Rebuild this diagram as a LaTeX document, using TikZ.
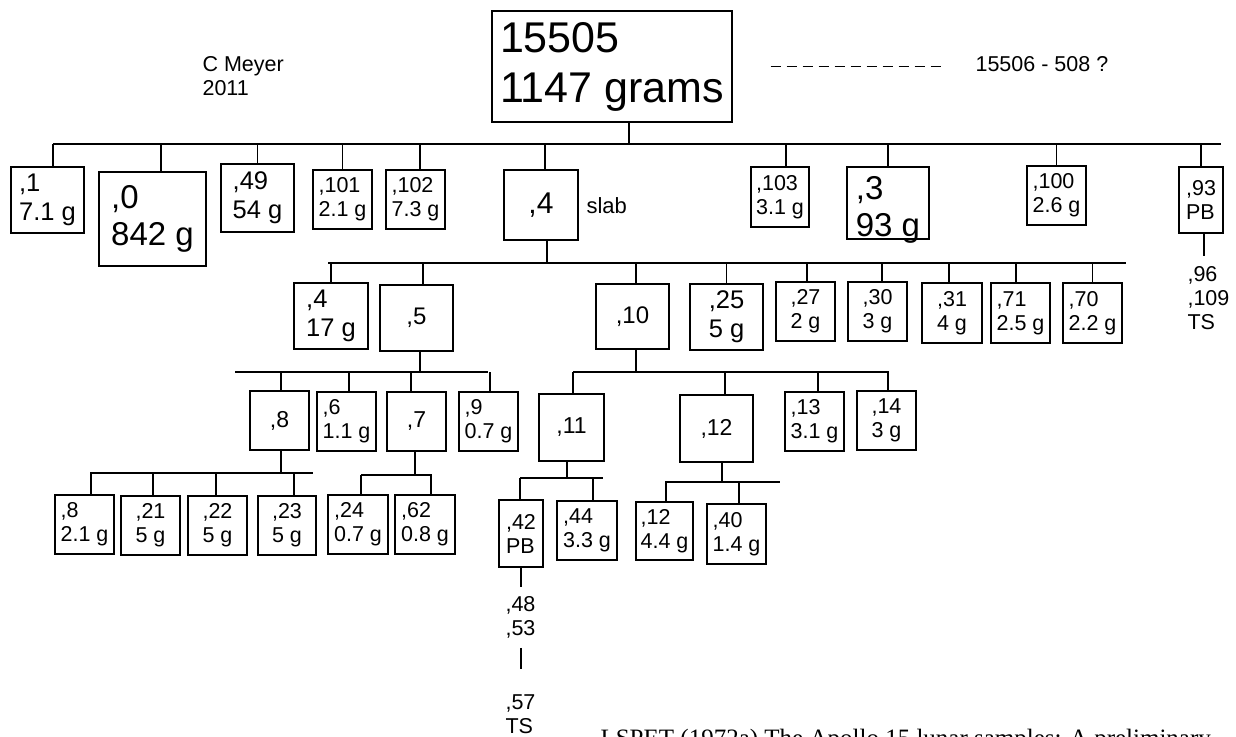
\documentclass[tikz,border=0pt]{standalone}
\usepackage{fontspec}
\setmainfont{Liberation Sans}
\newfontfamily\reffont{Liberation Serif}

\begin{document}
\begin{tikzpicture}[x=1pt, y=-1pt, line width=1.1pt,
  box/.style 2 args={draw, inner sep=0pt, align=left, minimum width=#1pt, minimum height=#2pt},
  hugetxt/.style={font=\fontsize{43}{50}\selectfont},
  bigtxt/.style={font=\fontsize{33}{37}\selectfont},
  slabtxt/.style={font=\fontsize{30}{34}\selectfont},
  midtxt/.style={font=\fontsize{25.5}{29}\selectfont},
  medtxt/.style={font=\fontsize{24}{28}\selectfont},
  lvltxt/.style={font=\fontsize{23}{26}\selectfont},
  smalltxt/.style={font=\fontsize{21.5}{24}\selectfont},
  sbox/.style={box={59}{59}, smalltxt},
  freetxt/.style={anchor=north west, inner sep=0pt, align=left, smalltxt},
  dashline/.style={dash pattern=on 10pt off 6pt}
]
\clip (0,0) rectangle (1236,736);

\node[box={240}{111}, hugetxt] (root) at (612,66.5) {15505\\1147 grams};
\node[freetxt] (author) at (202,56) {C Meyer\\2011};
\node[freetxt] (others) at (975,56) {15506 - 508 ?};
\draw[dashline] ([xshift=38pt]root.east) -- ([xshift=-30pt]others.west |- root.east);

\node[box={73}{66}, midtxt] (n1) at (47.5,200) {,1\\7.1 g};
\node[box={107}{94}, bigtxt] (n0) at (152.5,219) {,0\\842 g};
\node[box={73}{68}, midtxt] (n49) at (257.5,198) {,49\\54 g};
\node[sbox] (n101) at (342.5,199.5) {,101\\2.1 g};
\node[sbox] (n102) at (415.5,199.5) {,102\\7.3 g};
\node[box={74}{70}, slabtxt] (n4) at (541,205) {,4};
\node[anchor=base west, inner sep=0pt, font=\fontsize{22}{26}\selectfont] (slab) at (586,213) {slab};
\node[box={58}{60}, smalltxt] (n103) at (780,197) {,103\\3.1 g};
\node[box={82}{72}, bigtxt] (n3) at (888,203) {\raisebox{-13.4pt}[0pt][0pt]{\begin{tabular}{@{}l@{}},3\\93 g\end{tabular}}};
\node[sbox] (n100) at (1056.5,195.5) {,100\\2.6 g};
\node[box={44}{66}, smalltxt] (n93) at (1201,200) {,93\\PB};
\node[freetxt] (n96) at (1187,266) {,96\\,109\\TS};

\coordinate (bus1w) at (53,144);
\coordinate (bus1e) at (1221,144);
\draw (bus1w) -- (bus1e);
\draw ([xshift=17pt]root.south) -- ([xshift=17pt]root.south |- bus1w);
\draw ([xshift=5.5pt]n1.north) -- ([xshift=5.5pt]n1.north |- bus1w);
\draw ([xshift=8.5pt]n0.north) -- ([xshift=8.5pt]n0.north |- bus1w);
\draw (n49.north) -- (n49.north |- bus1w);
\draw (n101.north) -- (n101.north |- bus1w);
\draw ([xshift=4.5pt]n102.north) -- ([xshift=4.5pt]n102.north |- bus1w);
\draw ([xshift=4pt]n4.north) -- ([xshift=4pt]n4.north |- bus1w);
\draw ([xshift=6pt]n103.north) -- ([xshift=6pt]n103.north |- bus1w);
\draw (n3.north) -- (n3.north |- bus1w);
\draw (n100.north) -- (n100.north |- bus1w);
\draw (n93.north) -- (n93.north |- bus1w);
\draw[shorten >=10pt] ([xshift=3pt]n93.south) -- ([xshift=3pt]n93.south |- n96.north);

\node[box={74}{66}, midtxt] (n4s) at (331,316) {,4\\17 g};
\node[box={73}{66}, medtxt] (n5) at (416.5,318) {,5};
\node[box={73}{65}, medtxt] (n10) at (632.5,316.5) {,10};
\node[box={73}{66}, midtxt] (n25) at (726.5,317) {,25\\5 g};
\node[sbox] (n27) at (805.5,311.5) {,27\\2 g};
\node[sbox] (n30) at (877.5,311.5) {,30\\3 g};
\node[box={60}{60}, smalltxt] (n31) at (952,313) {,31\\4 g};
\node[box={59}{60}, smalltxt] (n71) at (1020.5,313) {,71\\2.5 g};
\node[box={59}{60}, smalltxt] (n70) at (1092.5,313) {,70\\2.2 g};

\coordinate (bus2w) at (328,263);
\coordinate (bus2e) at (1126,263);
\draw (bus2w) -- (bus2e);
\draw ([xshift=6pt]n4.south) -- ([xshift=6pt]n4.south |- bus2w);
\draw (n4s.north) -- (n4s.north |- bus2w);
\draw ([xshift=6.5pt]n5.north) -- ([xshift=6.5pt]n5.north |- bus2w);
\draw ([xshift=3.5pt]n10.north) -- ([xshift=3.5pt]n10.north |- bus2w);
\draw (n25.north) -- (n25.north |- bus2w);
\draw ([xshift=1.5pt]n27.north) -- ([xshift=1.5pt]n27.north |- bus2w);
\draw ([xshift=4.5pt]n30.north) -- ([xshift=4.5pt]n30.north |- bus2w);
\draw ([xshift=-3pt]n31.north) -- ([xshift=-3pt]n31.north |- bus2w);
\draw ([xshift=-4.5pt]n71.north) -- ([xshift=-4.5pt]n71.north |- bus2w);
\draw (n70.north) -- (n70.north |- bus2w);

\node[sbox, lvltxt] (n8) at (279.5,420.5) {,8};
\node[sbox] (n6) at (346.5,421.5) {,6\\1.1 g};
\node[sbox, lvltxt] (n7) at (416.5,421.5) {,7};
\node[sbox] (n9) at (488.5,421.5) {,9\\0.7 g};

\coordinate (bus3w) at (235,372);
\coordinate (bus3e) at (488,372);
\draw (bus3w) -- (bus3e);
\draw ([xshift=3.5pt]n5.south) -- ([xshift=3.5pt]n5.south |- bus3w);
\draw ([xshift=1.5pt]n8.north) -- ([xshift=1.5pt]n8.north |- bus3w);
\draw ([xshift=2.5pt]n6.north) -- ([xshift=2.5pt]n6.north |- bus3w);
\draw ([xshift=-5.5pt]n7.north) -- ([xshift=-5.5pt]n7.north |- bus3w);
\draw ([xshift=1.5pt]n9.north) -- ([xshift=1.5pt]n9.north |- bus3w);

\node[box={65}{67}, lvltxt] (n11) at (571.5,427.5) {,11};
\node[box={73}{67}, lvltxt] (n12) at (716.5,428.5) {,12};
\node[sbox] (n13) at (814.5,421.5) {,13\\3.1 g};
\node[sbox] (n14) at (886.5,420.5) {,14\\3 g};

\coordinate (bus4w) at (573,372);
\coordinate (bus4e) at (889,372);
\draw (bus4w) -- (bus4e);
\draw ([xshift=3.5pt]n10.south) -- ([xshift=3.5pt]n10.south |- bus4w);
\draw ([xshift=1.5pt]n11.north) -- ([xshift=1.5pt]n11.north |- bus4w);
\draw ([xshift=8.5pt]n12.north) -- ([xshift=8.5pt]n12.north |- bus4w);
\draw ([xshift=3.5pt]n13.north) -- ([xshift=3.5pt]n13.north |- bus4w);
\draw ([xshift=1.5pt]n14.north) -- ([xshift=1.5pt]n14.north |- bus4w);

\node[sbox] (m8) at (84.5,524.5) {,8\\2.1 g};
\node[sbox] (m21) at (150.5,525.5) {,21\\5 g};
\node[sbox] (m22) at (217.5,525.5) {,22\\5 g};
\node[box={58}{59}, smalltxt] (m23) at (287,525.5) {,23\\5 g};

\coordinate (bus5w) at (90,473);
\coordinate (bus5e) at (313,473);
\draw (bus5w) -- (bus5e);
\draw ([xshift=1.5pt]n8.south) -- ([xshift=1.5pt]n8.south |- bus5w);
\draw ([xshift=6.5pt]m8.north) -- ([xshift=6.5pt]m8.north |- bus5w);
\draw ([xshift=2.5pt]m21.north) -- ([xshift=2.5pt]m21.north |- bus5w);
\draw ([xshift=-1.5pt]m22.north) -- ([xshift=-1.5pt]m22.north |- bus5w);
\draw ([xshift=7pt]m23.north) -- ([xshift=7pt]m23.north |- bus5w);

\node[box={60}{59}, smalltxt] (m24) at (358,524.5) {,24\\0.7 g};
\node[box={60}{59}, smalltxt] (m62) at (425,524.5) {,62\\0.8 g};

\coordinate (bus6w) at (361,475);
\coordinate (bus6e) at (432,475);
\draw (bus6w) -- (bus6e);
\draw ([xshift=-1.5pt]n7.south) -- ([xshift=-1.5pt]n7.south |- bus6w);
\draw ([xshift=3pt]m24.north) -- ([xshift=3pt]m24.north |- bus6w);
\draw ([xshift=6pt]m62.north) -- ([xshift=6pt]m62.north |- bus6w);

\node[box={44}{67}, smalltxt] (m42) at (521,533.5) {,42\\PB};
\node[box={60}{59}, smalltxt] (m44) at (587,530.5) {,44\\3.3 g};
\node[freetxt] (m48) at (505,596) {,48\\,53};
\node[freetxt] (m57) at (505,694) {,57\\TS};

\coordinate (bus7w) at (520,478);
\coordinate (bus7e) at (603,478);
\draw (bus7w) -- (bus7e);
\draw ([xshift=-4.5pt]n11.south) -- ([xshift=-4.5pt]n11.south |- bus7w);
\draw ([xshift=-1pt]m42.north) -- ([xshift=-1pt]m42.north |- bus7w);
\draw ([xshift=6pt]m44.north) -- ([xshift=6pt]m44.north |- bus7w);
\draw[shorten >=9pt] (m42.south) -- (m42.south |- m48.north);
\draw[shorten <=9pt, shorten >=25pt] (m42.south |- m48.south) -- (m42.south |- m57.north);

\node[box={57}{58}, smalltxt] (m12) at (664.5,531) {,12\\4.4 g};
\node[box={59}{60}, smalltxt] (m40) at (736.5,534) {,40\\1.4 g};

\coordinate (bus8w) at (665,482);
\coordinate (bus8e) at (780,482);
\draw (bus8w) -- (bus8e);
\draw ([xshift=5.5pt]n12.south) -- ([xshift=5.5pt]n12.south |- bus8w);
\draw ([xshift=1.5pt]m12.north) -- ([xshift=1.5pt]m12.north |- bus8w);
\draw ([xshift=2.5pt]m40.north) -- ([xshift=2.5pt]m40.north |- bus8w);

\node[anchor=base west, inner sep=0pt, font={\fontsize{25}{30}\reffont}] (lspet) at (600,746) {LSPET (1972a) The Apollo 15 lunar samples: A preliminary};
\end{tikzpicture}
\end{document}
